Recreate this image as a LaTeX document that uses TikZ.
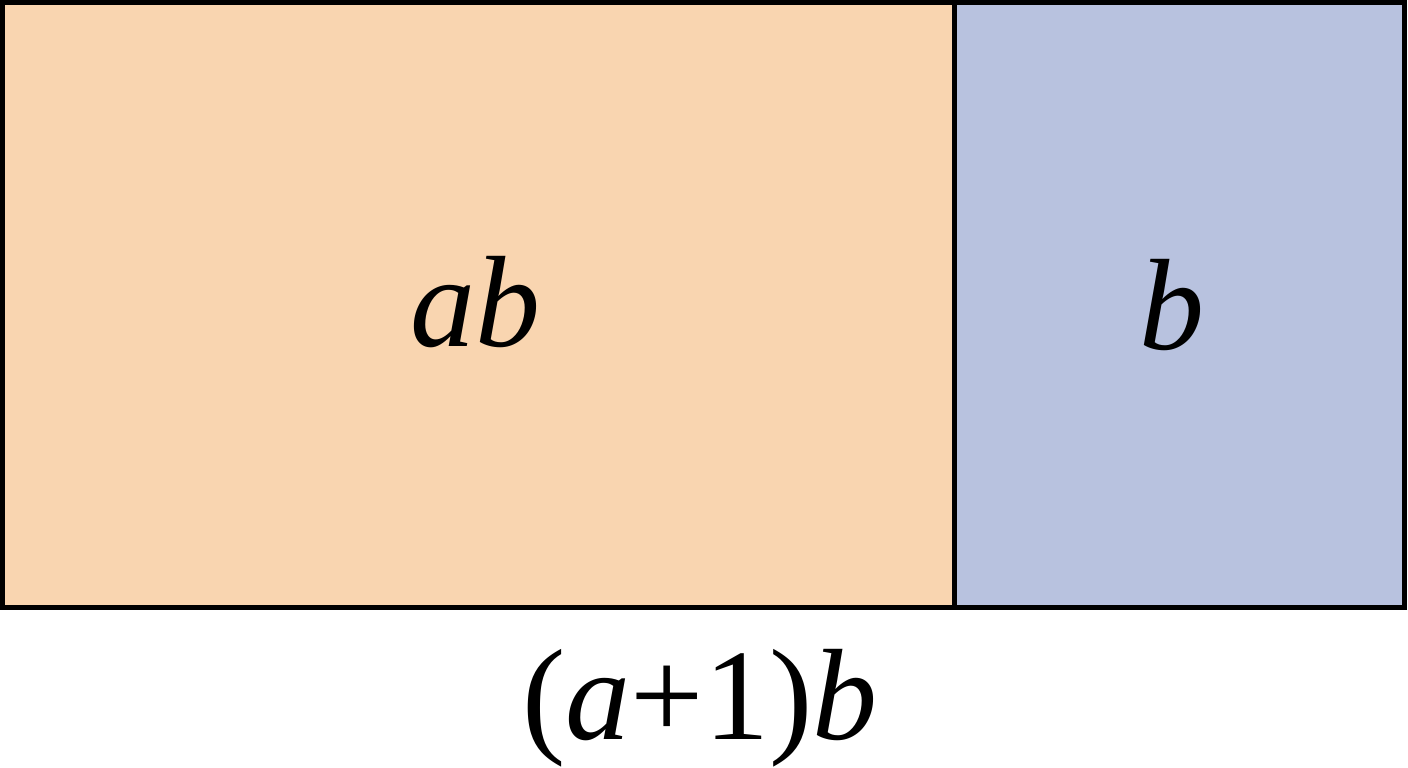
\documentclass[tikz,border=0pt]{standalone}
\usepackage{fontspec}
\setmainfont{Liberation Serif}
\definecolor{peach}{HTML}{F9D5B0}
\definecolor{lavender}{HTML}{B8C2DF}
\begin{document}
\begin{tikzpicture}[x=1pt,y=1pt,
  cell/.style={draw=black, line width=5pt},
  lbl/.style={inner sep=0pt, anchor=base, font=\fontsize{130}{150}\selectfont}]
\useasboundingbox (0,0) rectangle (1408,768);
\fill[white] (0,0) rectangle (1408,768);
\draw[cell, fill=peach] (2.5,765.5) rectangle (954,160);
\draw[cell, fill=lavender] (954,765.5) rectangle (1404,160);
\node[lbl] (ab) at (475,421) {\textit{ab}};
\node[lbl] (b) at (1172,418) {\textit{b}};
\node[lbl] (sum) at (700,28) {(\textit{a}+1)\textit{b}};
\end{tikzpicture}
\end{document}
